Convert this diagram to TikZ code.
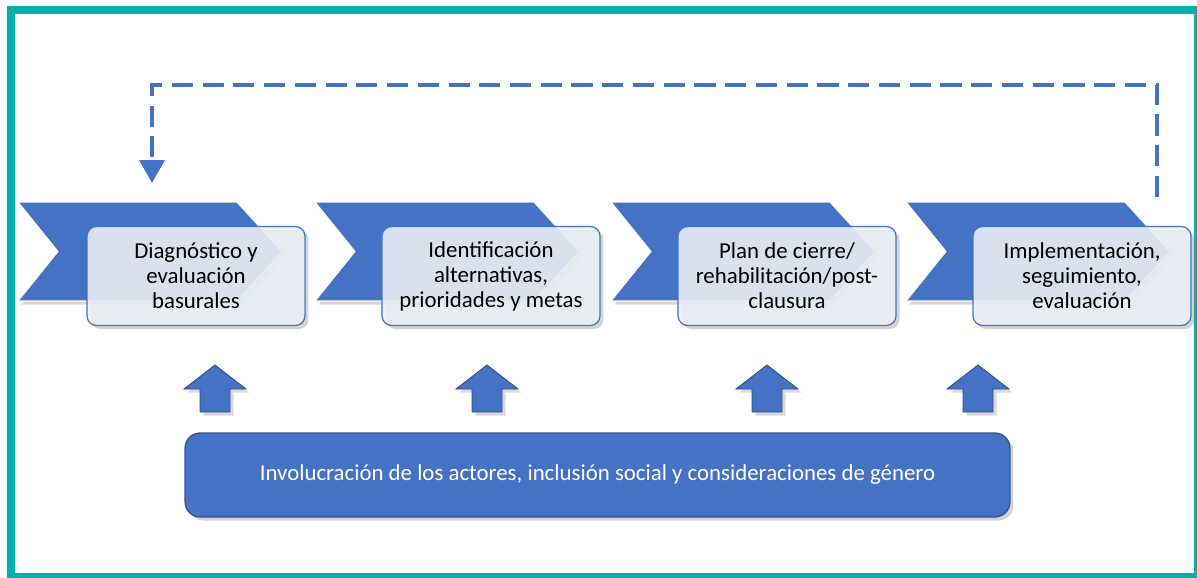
\documentclass[tikz,border=0pt]{standalone}
\usepackage{fontspec}
\setmainfont{Carlito}
\usepackage{tikz}
\usetikzlibrary{shadows, arrows.meta, shapes}

\definecolor{azul}{RGB}{68,114,196}
\definecolor{azuloscuro}{RGB}{47,82,143}
\definecolor{turquesa}{RGB}{0,178,169}
\definecolor{claro}{RGB}{236,240,248}

\begin{document}
\begin{tikzpicture}[x=0.02cm, y=-0.02cm,
	paso/.style={draw=azul, fill=claro, fill opacity=0.88, text opacity=1,
		rounded corners=5.5pt, minimum width=4.36cm, minimum height=1.98cm,
		align=center, line width=0.7pt,
		font=\fontsize{13}{14.2}\selectfont,
		drop shadow={shadow xshift=2pt, shadow yshift=-2pt, opacity=0.35}},
	flecha/.style={fill=azul, draw=azuloscuro, line width=0.5pt,
		drop shadow={shadow xshift=2pt, shadow yshift=-2pt, opacity=0.3}},
	]
	\useasboundingbox (0,0) rectangle (1197,578);
	\draw[turquesa, line width=4.5pt] (11,10) rectangle (1198,577);

	% chevrones
	\foreach \x in {18, 315, 611, 906}
		\filldraw[fill=azul, draw=white, line width=0.6pt,
		drop shadow={shadow xshift=2pt, shadow yshift=-2pt, opacity=0.3}]
		(\x,202) -- ++(219,0) -- ++(45,49.5) -- ++(-45,49.5) -- ++(-219,0) -- ++(40,-49.5) -- cycle;

	\node[paso] (diag) at (196,276) {Diagnóstico y\\evaluación\\basurales};
	\node[paso] (ident) at (491,276) {Identificación\\alternativas,\\prioridades y metas};
	\node[paso] (plan) at (787,276) {Plan de cierre/\\rehabilitación/post-\\clausura};
	\node[paso] (impl) at (1082,276) {Implementación,\\seguimiento,\\evaluación};

	% retroalimentacion
	\coordinate (desde) at (1157,197);
	\coordinate (hasta) at (152,183);
	\draw[azul, line width=2.3pt, dash pattern=on 12pt off 5.5pt,
		-{Triangle[length=13pt, width=14pt]}]
		(desde) -- ++(0,-112) -| (hasta);

	% flechas hacia arriba
	\foreach \x in {215, 487, 767, 978}
		\filldraw[flecha] (\x-15,412) -- (\x-15,389) -- (\x-31,389) -- (\x,365)
		-- (\x+31,389) -- (\x+15,389) -- (\x+15,412) -- cycle;

	\node[fill=azul, draw=azuloscuro, line width=0.7pt, rounded corners=8.5pt,
		minimum width=16.5cm, minimum height=1.68cm, text=white,
		font=\fontsize{13}{14.2}\selectfont,
		drop shadow={shadow xshift=2pt, shadow yshift=-2pt, opacity=0.35}]
		(actores) at (597.5,475) {Involucración de los actores, inclusión social y consideraciones de género};
\end{tikzpicture}
\end{document}
